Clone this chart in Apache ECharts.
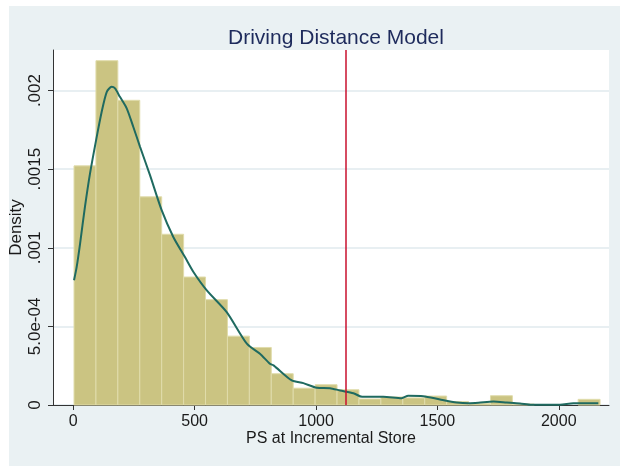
<!DOCTYPE html>
<html>
<head>
<meta charset="utf-8">
<title>Driving Distance Model</title>
<script src="https://cdn.jsdelivr.net/npm/echarts@6/dist/echarts.min.js"></script>
<style>
  html, body { margin: 0; padding: 0; background: #ffffff; }
  .graph_region { position: absolute; left: 9px; top: 6px; width: 611px; height: 460px; background: #eaf1f3; }
  #main { position: absolute; left: 0; top: 0; width: 620px; height: 466px; }
</style>
</head>
<body>
<div class="graph_region"></div>
<div id="main"></div>
<script>
  // histogram: bins of equal width, heights are densities
  var binStart = 3;
  var binWidth = 90.3;
  var binDensity = [
    0.001521, 0.002190, 0.001938, 0.001324, 0.001086, 0.000814,
    0.000670, 0.000438, 0.000366, 0.000199, 0.000107, 0.000129,
    0.000097, 0.000038, 0.000051, 0.000045, 0.000057, 0.000022,
    0.000010, 0.000059, 0.000006, 0, 0, 0.000036
  ];

  // kernel density curve
  var kdeX = [3, 14, 28, 48, 69, 94, 117, 138, 158, 172, 192, 220, 247, 275, 316, 364,
              412, 460, 495, 550, 632, 715, 769, 810, 825, 900, 948, 1003, 1058, 1099,
              1154, 1190, 1277, 1353, 1380, 1442, 1511, 1580, 1628, 1669, 1731, 1786,
              1840, 1889, 2005, 2060, 2163];
  var kdeY = [0.000793, 0.000878, 0.001027, 0.00126, 0.001473, 0.001685, 0.001865, 0.001992,
              0.002024, 0.002014, 0.00196, 0.001887, 0.00177, 0.001642, 0.001462, 0.001239,
              0.001069, 0.000941, 0.000846, 0.000729, 0.000591, 0.00039, 0.000326, 0.000262,
              0.000252, 0.000156, 0.000139, 0.00011, 0.000107, 0.000092,
              0.000075, 0.000052, 0.000052, 0.000043, 0.000059, 0.000056, 0.000035, 0.000016,
              0.000011, 0.000014, 0.000022, 0.000016,
              0.00001, 0.000001, 0.000001, 0.000011, 0.000011];

  var refLine = 1123;

  var xTicks = [0, 500, 1000, 1500, 2000];
  var yTicks = [0, 0.0005, 0.001, 0.0015, 0.002];
  var yTickLabels = ['0', '5.0e-04', '.001', '.0015', '.002'];

  var font = 'Liberation Sans, Arial, sans-serif';

  var bars = [];
  for (var i = 0; i < binDensity.length; i++) {
    bars.push([binStart + i * binWidth, binStart + (i + 1) * binWidth, binDensity[i]]);
  }
  var kde = [];
  for (var j = 0; j < kdeX.length; j++) {
    kde.push([kdeX[j], kdeY[j]]);
  }

  var myChart = echarts.init(document.getElementById('main'), null, { renderer: 'canvas' });

  var option = {
    animation: false,
    backgroundColor: 'transparent',
    title: {
      text: 'Driving Distance Model',
      left: 331,
      top: 23,
      textAlign: 'center',
      textStyle: { fontFamily: font, fontSize: 21, fontWeight: 'normal', color: '#1e2b5c' }
    },
    grid: {
      left: 53, right: 11, top: 50, bottom: 61,
      outerBoundsMode: 'none',
      containLabel: false,
      show: true, backgroundColor: '#ffffff', borderWidth: 0
    },
    xAxis: {
      type: 'value',
      min: -83.6,
      max: 2207,
      name: 'PS at Incremental Store',
      nameLocation: 'middle',
      nameGap: 26,
      nameMoveOverlap: false,
      nameTextStyle: { fontFamily: font, fontSize: 16, color: '#1a1a1a' },
      axisLine: { show: true, onZero: false, lineStyle: { color: '#333333', width: 1 } },
      axisTick: { show: true, length: 5, customValues: xTicks, lineStyle: { color: '#333333' } },
      axisLabel: {
        customValues: xTicks,
        fontFamily: font, fontSize: 16, color: '#1a1a1a', margin: 9,
        formatter: function (v) { return String(v); }
      },
      splitLine: { show: false }
    },
    yAxis: {
      type: 'value',
      min: 0,
      max: 0.002258,
      name: 'Density',
      nameLocation: 'middle',
      nameRotate: 90,
      nameGap: 28,
      nameMoveOverlap: false,
      nameTextStyle: { fontFamily: font, fontSize: 17, color: '#1a1a1a' },
      axisLine: { show: true, onZero: false, lineStyle: { color: '#333333', width: 1 } },
      axisTick: { show: true, length: 5, customValues: yTicks, lineStyle: { color: '#333333' } },
      axisLabel: {
        customValues: yTicks,
        rotate: 90,
        margin: 9,
        fontFamily: font,
        fontSize: 17,
        color: '#1a1a1a',
        formatter: function (v) {
          for (var k = 0; k < yTicks.length; k++) {
            if (Math.abs(yTicks[k] - v) < 1e-9) return yTickLabels[k];
          }
          return '';
        }
      },
      splitLine: { show: true, lineStyle: { color: '#e8eff2', width: 2 } }
    },
    series: [
      {
        // reference line sits behind the bars
        type: 'line',
        data: [],
        z: 1,
        markLine: {
          silent: true,
          symbol: 'none',
          label: { show: false },
          lineStyle: { color: '#c8102e', width: 1.5, type: 'solid' },
          data: [{ xAxis: refLine }]
        }
      },
      {
        type: 'custom',
        z: 2,
        data: bars,
        encode: { x: [0, 1], y: 2 },
        renderItem: function (params, api) {
          var h = api.value(2);
          if (!h) return;
          var p0 = api.coord([api.value(0), h]);
          var p1 = api.coord([api.value(1), 0]);
          return {
            type: 'rect',
            shape: { x: p0[0], y: p0[1], width: p1[0] - p0[0], height: p1[1] - p0[1] },
            style: { fill: '#cbc482', stroke: '#e0dcab', lineWidth: 1 }
          };
        }
      },
      {
        type: 'line',
        z: 3,
        data: kde,
        showSymbol: false,
        smooth: 0.25,
        lineStyle: { color: '#1f6a60', width: 2 }
      }
    ]
  };

  myChart.setOption(option);
</script>
</body>
</html>
